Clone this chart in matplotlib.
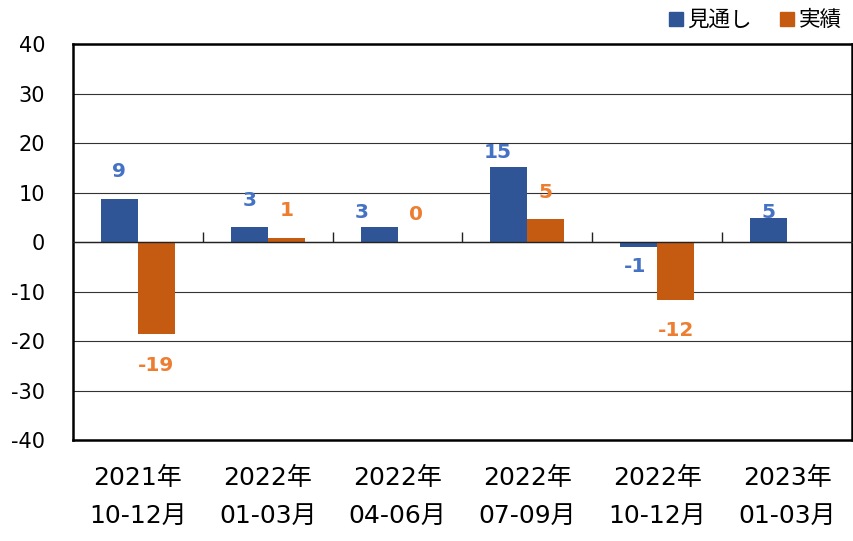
import numpy as np
import matplotlib
matplotlib.use("Agg")
import matplotlib.pyplot as plt
from matplotlib.lines import Line2D

plt.rcParams['font.family'] = ['DejaVu Sans', 'Noto Sans CJK JP']

categories = ["2021年\n10-12月", "2022年\n01-03月", "2022年\n04-06月",
              "2022年\n07-09月", "2022年\n10-12月", "2023年\n01-03月"]
series_names = ["見通し", "実績"]
forecast = [8.7, 3.0, 3.1, 15.2, -0.9, 4.9]
actual = [-18.6, 0.8, 0.0, 4.7, -11.6, np.nan]
y_ticks = [40, 30, 20, 10, 0, -10, -20, -30, -40]

# label offsets (pixels) – style only
fc_dy = [28, 27, 14, 15, -20, 6]
fc_dx = [0, 0, -17, -11, -4, 0]
ac_dy = [-31, 28, 28, 27, -31, 0]

blue_bar, orange_bar = "#2F5597", "#C55A11"
blue_txt, orange_txt = "#4472C4", "#ED7D31"

fig = plt.figure(figsize=(8.54, 5.41), dpi=100)
ax = fig.add_axes([73/854, 1-440/541, 779/854, 395.5/541])

x = np.arange(len(categories))
w = 0.285
ax.bar(x - w/2, forecast, w, color=blue_bar, zorder=3)
ax.bar(x + w/2, actual, w, color=orange_bar, zorder=3)

def fmt(v):
    return str(int(np.sign(v) * np.floor(abs(v) + 0.5)))

for i, v in enumerate(forecast):
    ax.annotate(fmt(v), (x[i] - w/2, v), xytext=(fc_dx[i], fc_dy[i]),
                textcoords='offset pixels', ha='center', va='center',
                fontsize=14.5, fontweight='bold', color=blue_txt, zorder=4)
for i, v in enumerate(actual):
    if np.isnan(v):
        continue
    ax.annotate(fmt(v), (x[i] + w/2, v), xytext=(0, ac_dy[i]),
                textcoords='offset pixels', ha='center', va='center',
                fontsize=14.5, fontweight='bold', color=orange_txt, zorder=4)

ax.set_xlim(-0.5, len(categories) - 0.5)
ax.set_ylim(-40, 40)
ax.set_yticks(y_ticks)
ax.set_yticklabels([str(t) for t in y_ticks], fontsize=15)
ax.yaxis.grid(True, color='#333333', linewidth=0.8, zorder=0)
ax.set_axisbelow(True)
ax.set_xticks(x)
ax.set_xticklabels(categories, fontsize=18, linespacing=1.7)
ax.tick_params(axis='x', length=0, pad=19)
ax.tick_params(axis='y', length=0, pad=20)
for s in ax.spines.values():
    s.set_linewidth(1.8)
    s.set_color('black')
    s.set_zorder(5)

# category axis at zero with inward boundary ticks
ax2 = ax.twiny()
ax2.set_xlim(ax.get_xlim())
ax2.xaxis.set_ticks_position('bottom')
ax2.spines['bottom'].set_position(('data', 0))
for k in ['top', 'left', 'right']:
    ax2.spines[k].set_visible(False)
ax2.spines['bottom'].set_linewidth(1.0)
ax2.spines['bottom'].set_color('#222222')
ax2.set_xticks(x[:-1] + 0.5)
ax2.tick_params(axis='x', direction='in', length=7, width=1.0, color='#222222',
                labelbottom=False, labeltop=False)

handles = [Line2D([], [], marker='s', linestyle='none', markersize=9.5,
                  markerfacecolor=blue_bar, markeredgecolor=blue_bar),
           Line2D([], [], marker='s', linestyle='none', markersize=9.5,
                  markerfacecolor=orange_bar, markeredgecolor=orange_bar)]
fig.legend(handles, series_names, loc='center right',
           bbox_to_anchor=(850/854, 1-20/541), ncol=2, frameon=False,
           fontsize=15.5, handletextpad=0.05, columnspacing=1.1, borderaxespad=0,
           handlelength=1.0)

fig.savefig("out.png", dpi=100)
